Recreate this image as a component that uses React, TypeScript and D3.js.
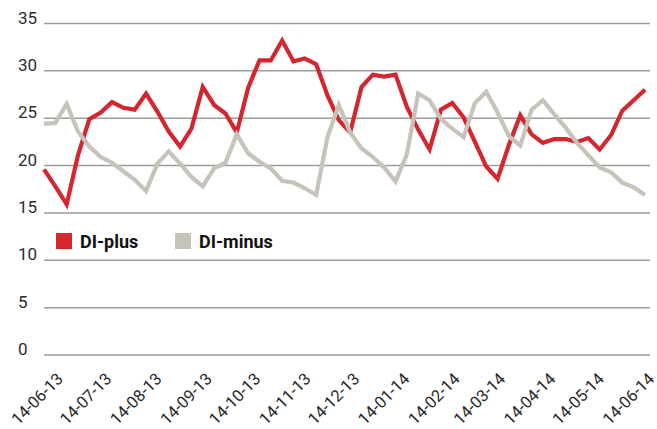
import React, { useEffect, useRef } from 'react';
import * as d3 from 'd3';

// weekly readings, first one on 14-06-13
const startDate = new Date(2013, 5, 14);

const diPlus = [
  19.6, 17.8, 15.9, 21.1, 24.9, 25.6, 26.7, 26.1, 25.9, 27.6,
  25.7, 23.6, 22.0, 23.9, 28.3, 26.4, 25.5, 23.5, 28.2, 31.1,
  31.1, 33.2, 31.0, 31.3, 30.7, 27.4, 24.8, 23.5, 28.3, 29.6,
  29.4, 29.6, 26.2, 23.8, 21.7, 25.9, 26.6, 25.1, 22.5, 19.9,
  18.6, 22.2, 25.3, 23.3, 22.4, 22.8, 22.8, 22.5, 22.9, 21.7,
  23.2, 25.8, 26.9, 28.0,
];

const diMinus = [
  24.4, 24.5, 26.5, 23.6, 22.0, 20.9, 20.3, 19.4, 18.5, 17.3,
  20.2, 21.5, 20.2, 18.8, 17.8, 19.7, 20.3, 23.3, 21.3, 20.4,
  19.7, 18.4, 18.2, 17.6, 16.9, 23.0, 26.4, 23.5, 21.8, 20.9,
  19.8, 18.3, 21.2, 27.6, 26.9, 24.9, 23.9, 23.0, 26.6, 27.8,
  25.6, 23.1, 22.1, 25.9, 26.9, 25.4, 24.0, 22.4, 21.1, 19.8,
  19.3, 18.2, 17.7, 16.9,
];

const xTickLabels = [
  '14-06-13', '14-07-13', '14-08-13', '14-09-13', '14-10-13', '14-11-13', '14-12-13',
  '14-01-14', '14-02-14', '14-03-14', '14-04-14', '14-05-14', '14-06-14',
];

const yTicks = [0, 5, 10, 15, 20, 25, 30, 35];

const series = [
  { name: 'DI-plus', values: diPlus, color: '#d4262f' },
  { name: 'DI-minus', values: diMinus, color: '#c7c2ba' },
];

const App: React.FC = () => {
  const svgRef = useRef<SVGSVGElement>(null);

  useEffect(() => {
    if (!svgRef.current) return;
    const svg = d3.select(svgRef.current);
    svg.selectAll('*').remove();

    const dates = diPlus.map((_, i) => d3.timeDay.offset(startDate, i * 7));
    const parse = d3.timeParse('%d-%m-%y');

    const x = d3.scaleTime()
      .domain([dates[0], dates[dates.length - 1]])
      .range([44, 645]);

    const y = d3.scaleLinear().domain([0, 35]).range([355, 23.5]);

    // gridlines + y labels
    const grid = svg.append('g');
    yTicks.forEach(t => {
      grid.append('line')
        .attr('x1', 44).attr('x2', 650)
        .attr('y1', y(t)).attr('y2', y(t))
        .attr('stroke', '#9d9d9d')
        .attr('stroke-width', 1.5);
      grid.append('text')
        .attr('x', 18)
        .attr('y', y(t))
        .attr('font-family', 'Roboto, sans-serif')
        .attr('font-size', 17)
        .attr('fill', '#2b2b2b')
        .text(String(t));
    });

    // x labels, rotated
    xTickLabels.forEach(lbl => {
      const d = parse(lbl) as Date;
      const px = x(d) + 20;
      svg.append('text')
        .attr('transform', `translate(${px},${380}) rotate(-45)`)
        .attr('text-anchor', 'end')
        .attr('font-family', 'Roboto, sans-serif')
        .attr('font-size', 16.5)
        .attr('fill', '#2b2b2b')
        .text(lbl);
    });

    const line = d3.line<number>()
      .x((_, i) => x(dates[i]))
      .y(v => y(v));

    series.forEach(s => {
      svg.append('path')
        .datum(s.values)
        .attr('d', line)
        .attr('fill', 'none')
        .attr('stroke', s.color)
        .attr('stroke-width', 4.2)
        .attr('stroke-linejoin', 'miter');
    });

    // legend
    const legendX = [56, 175];
    series.forEach((s, i) => {
      svg.append('rect')
        .attr('x', legendX[i]).attr('y', 233)
        .attr('width', 16).attr('height', 16)
        .attr('fill', s.color);
      svg.append('text')
        .attr('x', legendX[i] + 24)
        .attr('y', 248)
        .attr('font-family', 'Roboto, sans-serif')
        .attr('font-weight', 'bold')
        .attr('font-size', 18)
        .attr('fill', '#111')
        .text(s.name);
    });
  }, []);

  return (
    <svg
      ref={svgRef}
      width={657}
      height={429}
      style={{ position: 'absolute', left: 0, top: 0, background: '#fff' }}
    />
  );
};

export default App;
